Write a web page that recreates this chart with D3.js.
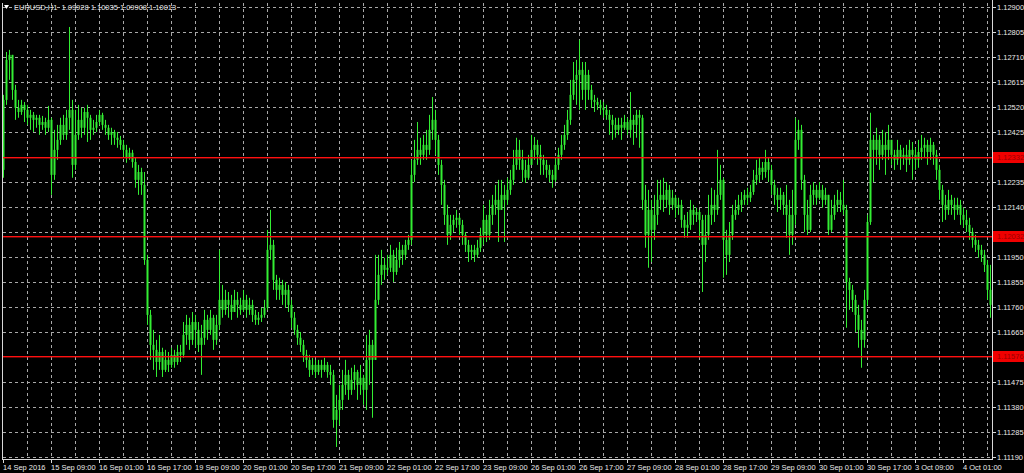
<!DOCTYPE html>
<html><head><meta charset="utf-8">
<script src="https://cdn.jsdelivr.net/npm/d3@7"></script>
<style>
body{margin:0;background:#000;overflow:hidden;}
svg{display:block;}
text{font-family:"Liberation Sans",Arial,sans-serif;}
</style>
</head><body>
<svg id="c" width="1024" height="473"></svg>
<script>
const symbolTitle = "EURUSD,H1  1.09928 1.10035 1.09908 1.10013";
const firstOpen = 1.12283;
const closes = [
1.12549,1.12701,1.12720,1.12587,1.12519,1.12503,1.12530,1.12511,1.12481,1.12492,
1.12473,1.12481,1.12454,1.12465,1.12443,1.12473,1.12264,1.12359,1.12397,1.12454,
1.12416,1.12481,1.12511,1.12302,1.12416,1.12473,1.12443,1.12503,1.12481,1.12435,
1.12443,1.12465,1.12492,1.12454,1.12443,1.12416,1.12427,1.12405,1.12397,1.12378,
1.12359,1.12329,1.12348,1.12313,1.12245,1.12275,1.12226,1.11941,1.11732,1.11618,
1.11599,1.11553,1.11591,1.11523,1.11561,1.11542,1.11580,1.11553,1.11591,1.11580,
1.11656,1.11694,1.11637,1.11705,1.11675,1.11618,1.11645,1.11713,1.11675,1.11721,
1.11637,1.11694,1.11789,1.11751,1.11789,1.11770,1.11743,1.11789,1.11770,1.11751,
1.11789,1.11751,1.11770,1.11732,1.11713,1.11721,1.11732,1.11759,1.11979,1.11998,
1.11865,1.11827,1.11846,1.11808,1.11827,1.11770,1.11721,1.11675,1.11645,1.11618,
1.11580,1.11561,1.11523,1.11542,1.11515,1.11542,1.11523,1.11542,1.11515,1.11504,
1.11333,1.11371,1.11409,1.11466,1.11504,1.11447,1.11485,1.11515,1.11466,1.11493,
1.11447,1.11561,1.11618,1.11561,1.11789,1.11884,1.11922,1.11903,1.11911,1.11960,
1.11895,1.11941,1.11979,1.11960,1.11998,1.12017,1.12264,1.12321,1.12359,1.12340,
1.12378,1.12359,1.12435,1.12473,1.12397,1.12302,1.12226,1.12112,1.12036,1.12074,
1.12093,1.12101,1.12074,1.12036,1.11998,1.11971,1.11979,1.11960,1.11987,1.12036,
1.12093,1.12036,1.12112,1.12150,1.12169,1.12131,1.12188,1.12169,1.12207,1.12245,
1.12302,1.12359,1.12321,1.12283,1.12253,1.12302,1.12359,1.12378,1.12340,1.12321,
1.12302,1.12283,1.12264,1.12245,1.12302,1.12340,1.12378,1.12416,1.12473,1.12568,
1.12625,1.12644,1.12663,1.12587,1.12644,1.12587,1.12549,1.12541,1.12530,1.12519,
1.12511,1.12492,1.12473,1.12454,1.12435,1.12454,1.12443,1.12465,1.12435,1.12473,
1.12454,1.12492,1.12481,1.12169,1.12036,1.12131,1.12055,1.12112,1.12169,1.12188,
1.12169,1.12207,1.12150,1.12177,1.12139,1.12150,1.12093,1.12063,1.12074,1.12131,
1.12112,1.12123,1.12093,1.11998,1.12036,1.12112,1.12150,1.12131,1.12188,1.12245,
1.12017,1.11960,1.12036,1.12112,1.12131,1.12150,1.12169,1.12188,1.12177,1.12199,
1.12245,1.12264,1.12291,1.12275,1.12313,1.12283,1.12226,1.12188,1.12169,1.12188,
1.12150,1.12112,1.12036,1.12112,1.12397,1.12435,1.12245,1.12112,1.12055,1.12188,
1.12207,1.12177,1.12207,1.12169,1.12188,1.12055,1.12112,1.12150,1.12169,1.12150,
1.12131,1.11857,1.11827,1.11789,1.11732,1.11675,1.11637,1.11789,1.12085,1.12397,
1.12359,1.12397,1.12340,1.12378,1.12359,1.12397,1.12340,1.12321,1.12359,1.12329,
1.12340,1.12321,1.12359,1.12340,1.12321,1.12351,1.12367,1.12378,1.12351,1.12378,
1.12340,1.12283,1.12207,1.12150,1.12131,1.12169,1.12150,1.12131,1.12150,1.12112,
1.12093,1.12074,1.12047,1.12017,1.11998,1.11979,1.11960,1.11922,1.11827,1.11770
];
const highs = [
1.12568,1.12731,1.12739,1.12720,1.12606,1.12549,1.12549,1.12541,1.12530,1.12511,
1.12503,1.12492,1.12492,1.12488,1.12481,1.12526,1.12481,1.12435,1.12454,1.12481,
1.12492,1.12511,1.12826,1.12549,1.12511,1.12530,1.12519,1.12519,1.12530,1.12492,
1.12473,1.12492,1.12511,1.12500,1.12473,1.12454,1.12443,1.12435,1.12427,1.12412,
1.12397,1.12378,1.12367,1.12359,1.12329,1.12302,1.12291,1.12275,1.11960,1.11751,
1.11675,1.11637,1.11656,1.11607,1.11599,1.11591,1.11607,1.11599,1.11618,1.11618,
1.11705,1.11732,1.11721,1.11743,1.11732,1.11705,1.11694,1.11751,1.11732,1.11751,
1.11732,1.11732,1.11979,1.11846,1.11827,1.11819,1.11808,1.11827,1.11819,1.11797,
1.11827,1.11808,1.11797,1.11789,1.11751,1.11743,1.11759,1.11789,1.12055,1.12131,
1.12017,1.11884,1.11873,1.11865,1.11857,1.11846,1.11789,1.11743,1.11694,1.11667,
1.11637,1.11599,1.11580,1.11569,1.11561,1.11561,1.11561,1.11569,1.11553,1.11542,
1.11523,1.11428,1.11466,1.11523,1.11561,1.11523,1.11531,1.11542,1.11523,1.11542,
1.11504,1.11656,1.11675,1.11637,1.11960,1.11960,1.11979,1.11949,1.11960,1.11998,
1.11979,1.11987,1.12009,1.11998,1.12017,1.12036,1.12321,1.12397,1.12465,1.12405,
1.12416,1.12435,1.12492,1.12560,1.12511,1.12416,1.12321,1.12245,1.12150,1.12112,
1.12112,1.12131,1.12112,1.12093,1.12047,1.12017,1.11998,1.11998,1.12017,1.12063,
1.12150,1.12112,1.12169,1.12188,1.12226,1.12245,1.12245,1.12226,1.12253,1.12283,
1.12359,1.12405,1.12397,1.12359,1.12321,1.12340,1.12416,1.12408,1.12397,1.12378,
1.12340,1.12321,1.12302,1.12283,1.12329,1.12367,1.12416,1.12454,1.12511,1.12625,
1.12693,1.12701,1.12777,1.12693,1.12693,1.12663,1.12606,1.12568,1.12557,1.12549,
1.12541,1.12530,1.12511,1.12492,1.12481,1.12481,1.12481,1.12492,1.12481,1.12579,
1.12492,1.12511,1.12511,1.12492,1.12226,1.12207,1.12169,1.12188,1.12245,1.12245,
1.12253,1.12237,1.12226,1.12207,1.12188,1.12177,1.12169,1.12112,1.12123,1.12169,
1.12150,1.12139,1.12131,1.12112,1.12112,1.12188,1.12215,1.12207,1.12359,1.12302,
1.12253,1.12055,1.12085,1.12150,1.12169,1.12188,1.12199,1.12207,1.12215,1.12226,
1.12283,1.12321,1.12329,1.12313,1.12359,1.12329,1.12302,1.12245,1.12215,1.12215,
1.12199,1.12226,1.12169,1.12207,1.12481,1.12473,1.12454,1.12264,1.12169,1.12226,
1.12237,1.12226,1.12237,1.12226,1.12215,1.12188,1.12169,1.12188,1.12207,1.12199,
1.12245,1.12150,1.11873,1.11846,1.11808,1.11770,1.11713,1.11827,1.12112,1.12500,
1.12416,1.12443,1.12416,1.12435,1.12427,1.12454,1.12397,1.12359,1.12397,1.12378,
1.12367,1.12378,1.12397,1.12389,1.12367,1.12397,1.12416,1.12405,1.12397,1.12405,
1.12389,1.12359,1.12302,1.12226,1.12188,1.12207,1.12188,1.12177,1.12177,1.12169,
1.12139,1.12131,1.12101,1.12063,1.12036,1.12017,1.11998,1.11979,1.11941,1.11922
];
const lows = [
1.12253,1.12530,1.12625,1.12549,1.12473,1.12481,1.12492,1.12465,1.12454,1.12435,
1.12427,1.12443,1.12416,1.12435,1.12416,1.12427,1.12188,1.12245,1.12321,1.12378,
1.12397,1.12397,1.12435,1.12253,1.12283,1.12397,1.12405,1.12416,1.12389,1.12397,
1.12416,1.12427,1.12454,1.12435,1.12416,1.12397,1.12378,1.12378,1.12367,1.12359,
1.12329,1.12310,1.12321,1.12291,1.12215,1.12188,1.12188,1.11922,1.11694,1.11561,
1.11523,1.11496,1.11523,1.11496,1.11515,1.11515,1.11531,1.11531,1.11542,1.11553,
1.11569,1.11618,1.11599,1.11618,1.11607,1.11591,1.11504,1.11618,1.11637,1.11656,
1.11599,1.11618,1.11675,1.11721,1.11732,1.11721,1.11713,1.11743,1.11721,1.11732,
1.11743,1.11721,1.11732,1.11705,1.11694,1.11694,1.11705,1.11721,1.11751,1.11941,
1.11827,1.11789,1.11789,1.11770,1.11759,1.11743,1.11683,1.11656,1.11618,1.11591,
1.11553,1.11531,1.11496,1.11504,1.11493,1.11504,1.11493,1.11515,1.11493,1.11466,
1.11303,1.11230,1.11314,1.11371,1.11428,1.11409,1.11428,1.11447,1.11409,1.11428,
1.11390,1.11371,1.11466,1.11341,1.11561,1.11770,1.11846,1.11865,1.11884,1.11895,
1.11857,1.11884,1.11911,1.11922,1.11941,1.11979,1.11998,1.12237,1.12302,1.12302,
1.12321,1.12321,1.12340,1.12397,1.12340,1.12264,1.12150,1.12074,1.11998,1.12017,
1.12047,1.12063,1.12036,1.11998,1.11971,1.11933,1.11941,1.11933,1.11949,1.11971,
1.11998,1.12009,1.12017,1.12074,1.12112,1.12009,1.12150,1.12009,1.12150,1.12188,
1.12226,1.12283,1.12283,1.12237,1.12234,1.12245,1.12302,1.12321,1.12302,1.12264,
1.12264,1.12253,1.12237,1.12215,1.12237,1.12283,1.12321,1.12359,1.12397,1.12454,
1.12549,1.12530,1.12511,1.12549,1.12511,1.12549,1.12519,1.12503,1.12511,1.12492,
1.12481,1.12473,1.12416,1.12397,1.12405,1.12416,1.12397,1.12435,1.12416,1.12405,
1.12378,1.12405,1.12367,1.12131,1.11987,1.11911,1.11933,1.12017,1.12074,1.12131,
1.12123,1.12139,1.12112,1.12131,1.12101,1.12112,1.12063,1.12025,1.12025,1.12055,
1.12074,1.12085,1.12017,1.11819,1.11933,1.12017,1.12074,1.12085,1.12112,1.12169,
1.11873,1.11884,1.11933,1.12017,1.12093,1.12112,1.12123,1.12150,1.12150,1.12161,
1.12188,1.12226,1.12237,1.12245,1.12253,1.12237,1.12188,1.12150,1.12123,1.12131,
1.12112,1.12025,1.11960,1.11998,1.12074,1.12359,1.12207,1.12047,1.12036,1.12047,
1.12150,1.12150,1.12169,1.12139,1.12150,1.12036,1.12047,1.12093,1.12123,1.12123,
1.12112,1.11683,1.11751,1.11743,1.11667,1.11607,1.11531,1.11607,1.11770,1.12074,
1.12237,1.12302,1.12283,1.12321,1.12264,1.12321,1.12302,1.12283,1.12302,1.12283,
1.12302,1.12275,1.12302,1.12245,1.12283,1.12291,1.12321,1.12329,1.12302,1.12321,
1.12302,1.12245,1.12169,1.12085,1.12093,1.12112,1.12112,1.12093,1.12112,1.12074,
1.12063,1.12047,1.12017,1.11987,1.11971,1.11949,1.11933,1.11895,1.11789,1.11721
];
const priceTicks = [1.12900,1.12805,1.12710,1.12615,1.12520,1.12425,1.12330,1.12235,1.12140,1.12045,
  1.11950,1.11855,1.11760,1.11665,1.11570,1.11475,1.11380,1.11285,1.11190];
const timeLabels = ["14 Sep 2016","15 Sep 09:00","16 Sep 01:00","16 Sep 17:00","19 Sep 09:00","20 Sep 01:00",
  "20 Sep 17:00","21 Sep 09:00","22 Sep 01:00","22 Sep 17:00","23 Sep 09:00","26 Sep 01:00","26 Sep 17:00",
  "27 Sep 09:00","28 Sep 01:00","28 Sep 17:00","29 Sep 09:00","30 Sep 01:00","30 Sep 17:00","3 Oct 09:00","4 Oct 01:00"];
const barsPerLabel = 16;
const levels = [1.12332, 1.12032, 1.11576];

(function () {
const svg = d3.select("#c");
const W = 1024, H = 473;
const pL = 2, pR = 992, pT = 3, pB = 459;
svg.append("rect").attr("width", W).attr("height", H).attr("fill", "#000");

const y = d3.scaleLinear().domain([d3.min(priceTicks), d3.max(priceTicks)]).range([457.5, 7.5]);
const x = d3.scaleBand().domain(d3.range(closes.length)).range([pL, pR]).paddingInner(0).paddingOuter(0);
const py = v => Math.round(y(v) - 0.01) + 0.5;
const nearLevel = t => levels.some(l => Math.abs(y(t) - y(l)) < 2);

const gridColor = "#a8a8a8";
const grid = svg.append("g").attr("shape-rendering", "crispEdges");
grid.selectAll("line.h").data(priceTicks.filter(t => !nearLevel(t))).join("line").attr("class", "h")
  .attr("x1", pL + 1).attr("x2", pR)
  .attr("y1", py).attr("y2", py)
  .attr("stroke", gridColor).attr("stroke-width", 1).attr("stroke-dasharray", "3,3");
const vIdx = d3.range(8, closes.length, barsPerLabel / 2);
grid.selectAll("line.v").data(vIdx).join("line").attr("class", "v")
  .attr("x1", d => Math.round(x(d)) + 1.5).attr("x2", d => Math.round(x(d)) + 1.5)
  .attr("y1", pT).attr("y2", pB)
  .attr("stroke", gridColor).attr("stroke-width", 1).attr("stroke-dasharray", "3,3");

const bars = closes.map((c, i) => ({i, o: i ? closes[i - 1] : firstOpen, c, h: highs[i], l: lows[i]}));
const green = "#33ee33";
const cg = svg.append("g");
cg.selectAll("line").data(bars).join("line")
  .attr("x1", d => x(d.i) + 1.5).attr("x2", d => x(d.i) + 1.5)
  .attr("y1", d => y(Math.max(d.h, d.o, d.c))).attr("y2", d => y(Math.min(d.l, d.o, d.c)))
  .attr("stroke", green).attr("stroke-width", 1);
cg.selectAll("rect").data(bars).join("rect")
  .attr("x", d => x(d.i) + 0.5).attr("width", 2)
  .attr("y", d => y(Math.max(d.o, d.c)))
  .attr("height", d => Math.max(1, Math.abs(y(d.o) - y(d.c))))
  .attr("fill", green);

// horizontal level lines, drawn over the candles
svg.append("g")
  .selectAll("rect").data(levels).join("rect")
  .attr("x", pL).attr("width", pR - pL)
  .attr("y", d => py(d) - 0.5).attr("height", 1.4)
  .attr("fill", "#ff1010");

const fr = svg.append("g").attr("stroke", "#d8d8d8").attr("stroke-width", 1).attr("shape-rendering", "crispEdges");
fr.append("line").attr("x1", pL + 0.5).attr("x2", pL + 0.5).attr("y1", pT).attr("y2", pB + 0.5);
fr.append("line").attr("x1", pR + 0.5).attr("x2", pR + 0.5).attr("y1", 0).attr("y2", pB + 0.5);
fr.append("line").attr("x1", pL).attr("x2", pR + 1).attr("y1", pB + 0.5).attr("y2", pB + 0.5);

const ra = svg.append("g");
ra.selectAll("line").data(priceTicks).join("line")
  .attr("x1", pR).attr("x2", pR + 4)
  .attr("y1", py).attr("y2", py)
  .attr("stroke", "#d8d8d8");
const shownTicks = priceTicks.filter(t => levels.every(l => Math.abs(y(t) - y(l)) > 9));
ra.selectAll("text").data(shownTicks).join("text")
  .attr("x", pR + 5).attr("y", d => y(d)).attr("dy", "0.35em")
  .attr("font-size", 7.5).attr("fill", "#e8e8e8")
  .text(d => d.toFixed(5));

const ll = svg.append("g");
ll.selectAll("rect").data(levels).join("rect")
  .attr("x", pR + 1).attr("width", W - pR - 1)
  .attr("y", d => Math.round(y(d)) - 5).attr("height", 11)
  .attr("fill", "#f00000");
ll.selectAll("text").data(levels).join("text")
  .attr("x", pR + 5).attr("y", d => y(d)).attr("dy", "0.35em")
  .attr("font-size", 7.5).attr("fill", "#9a0000")
  .text(d => d.toFixed(5));

const ba = svg.append("g");
const tIdx = timeLabels.map((t, k) => k * barsPerLabel);
ba.selectAll("line").data(tIdx).join("line")
  .attr("x1", d => Math.round(x(d)) + 1.5).attr("x2", d => Math.round(x(d)) + 1.5)
  .attr("y1", pB).attr("y2", pB + 4)
  .attr("stroke", "#d8d8d8");
ba.selectAll("text").data(timeLabels).join("text")
  .attr("x", (d, k) => Math.round(x(tIdx[k])) + 1)
  .attr("y", 470)
  .attr("font-size", 7.5).attr("fill", "#e8e8e8")
  .text(d => d);

const tg = svg.append("g");
tg.append("path").attr("d", "M4,5 L9,5 L6.5,9 Z").attr("fill", "#ffffff");
tg.append("text").attr("x", 14).attr("y", 10).attr("font-size", 7.5).attr("fill", "#e8e8e8")
  .attr("xml:space", "preserve").style("white-space", "pre").text(symbolTitle);
})();
</script>
</body></html>
